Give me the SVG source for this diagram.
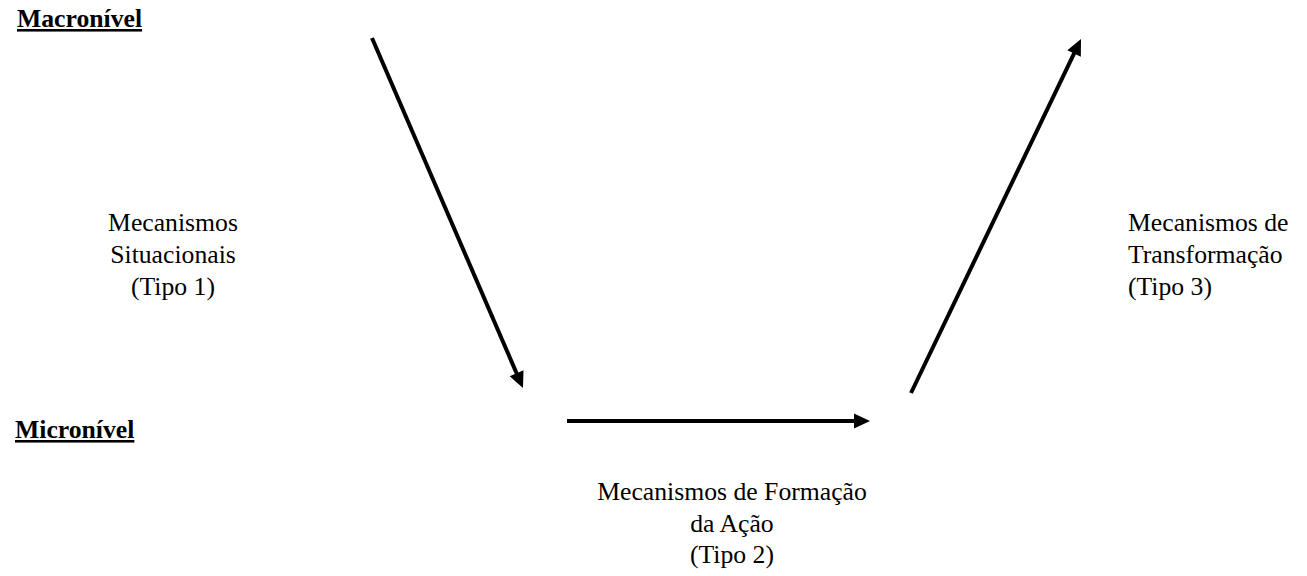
<svg xmlns="http://www.w3.org/2000/svg" width="1307" height="576" viewBox="0 0 1307 576">
<style>
text{font-family:"Liberation Serif","Times New Roman",serif;font-size:25.7px;fill:#000}
.lvl{font-weight:bold;text-decoration:underline}
.c{text-anchor:middle}
.arr{stroke:#000;stroke-width:4;fill:none;marker-end:url(#ah)}
</style>
<defs>
<marker id="ah" markerUnits="userSpaceOnUse" markerWidth="16" markerHeight="15" refX="4" refY="7.5" orient="auto" overflow="visible">
<path d="M0,0 L16,7.5 L0,15 z" fill="#000"/>
</marker>
</defs>
<rect width="1307" height="576" fill="#fff"/>
<g id="macro"><text class="lvl" x="17" y="27">Macronível</text></g>
<g id="micro"><text class="lvl" x="15" y="438">Micronível</text></g>
<g id="tipo1"><text class="c" x="173" y="231">Mecanismos</text><text class="c" x="173" y="263">Situacionais</text><text class="c" x="173" y="295">(Tipo 1)</text></g>
<g id="tipo3"><text x="1128" y="231">Mecanismos de</text><text x="1128" y="263">Transformação</text><text x="1128" y="295">(Tipo 3)</text></g>
<g id="tipo2"><text class="c" x="732" y="500">Mecanismos de Formação</text><text class="c" x="732" y="531.5">da Ação</text><text class="c" x="732" y="563">(Tipo 2)</text></g>
<g id="connectors">
<line class="arr" x1="372" y1="38" x2="518.2" y2="377"/>
<line class="arr" x1="567" y1="421" x2="858" y2="421"/>
<line class="arr" x1="911" y1="393" x2="1075.8" y2="49.8"/>
</g>
</svg>
